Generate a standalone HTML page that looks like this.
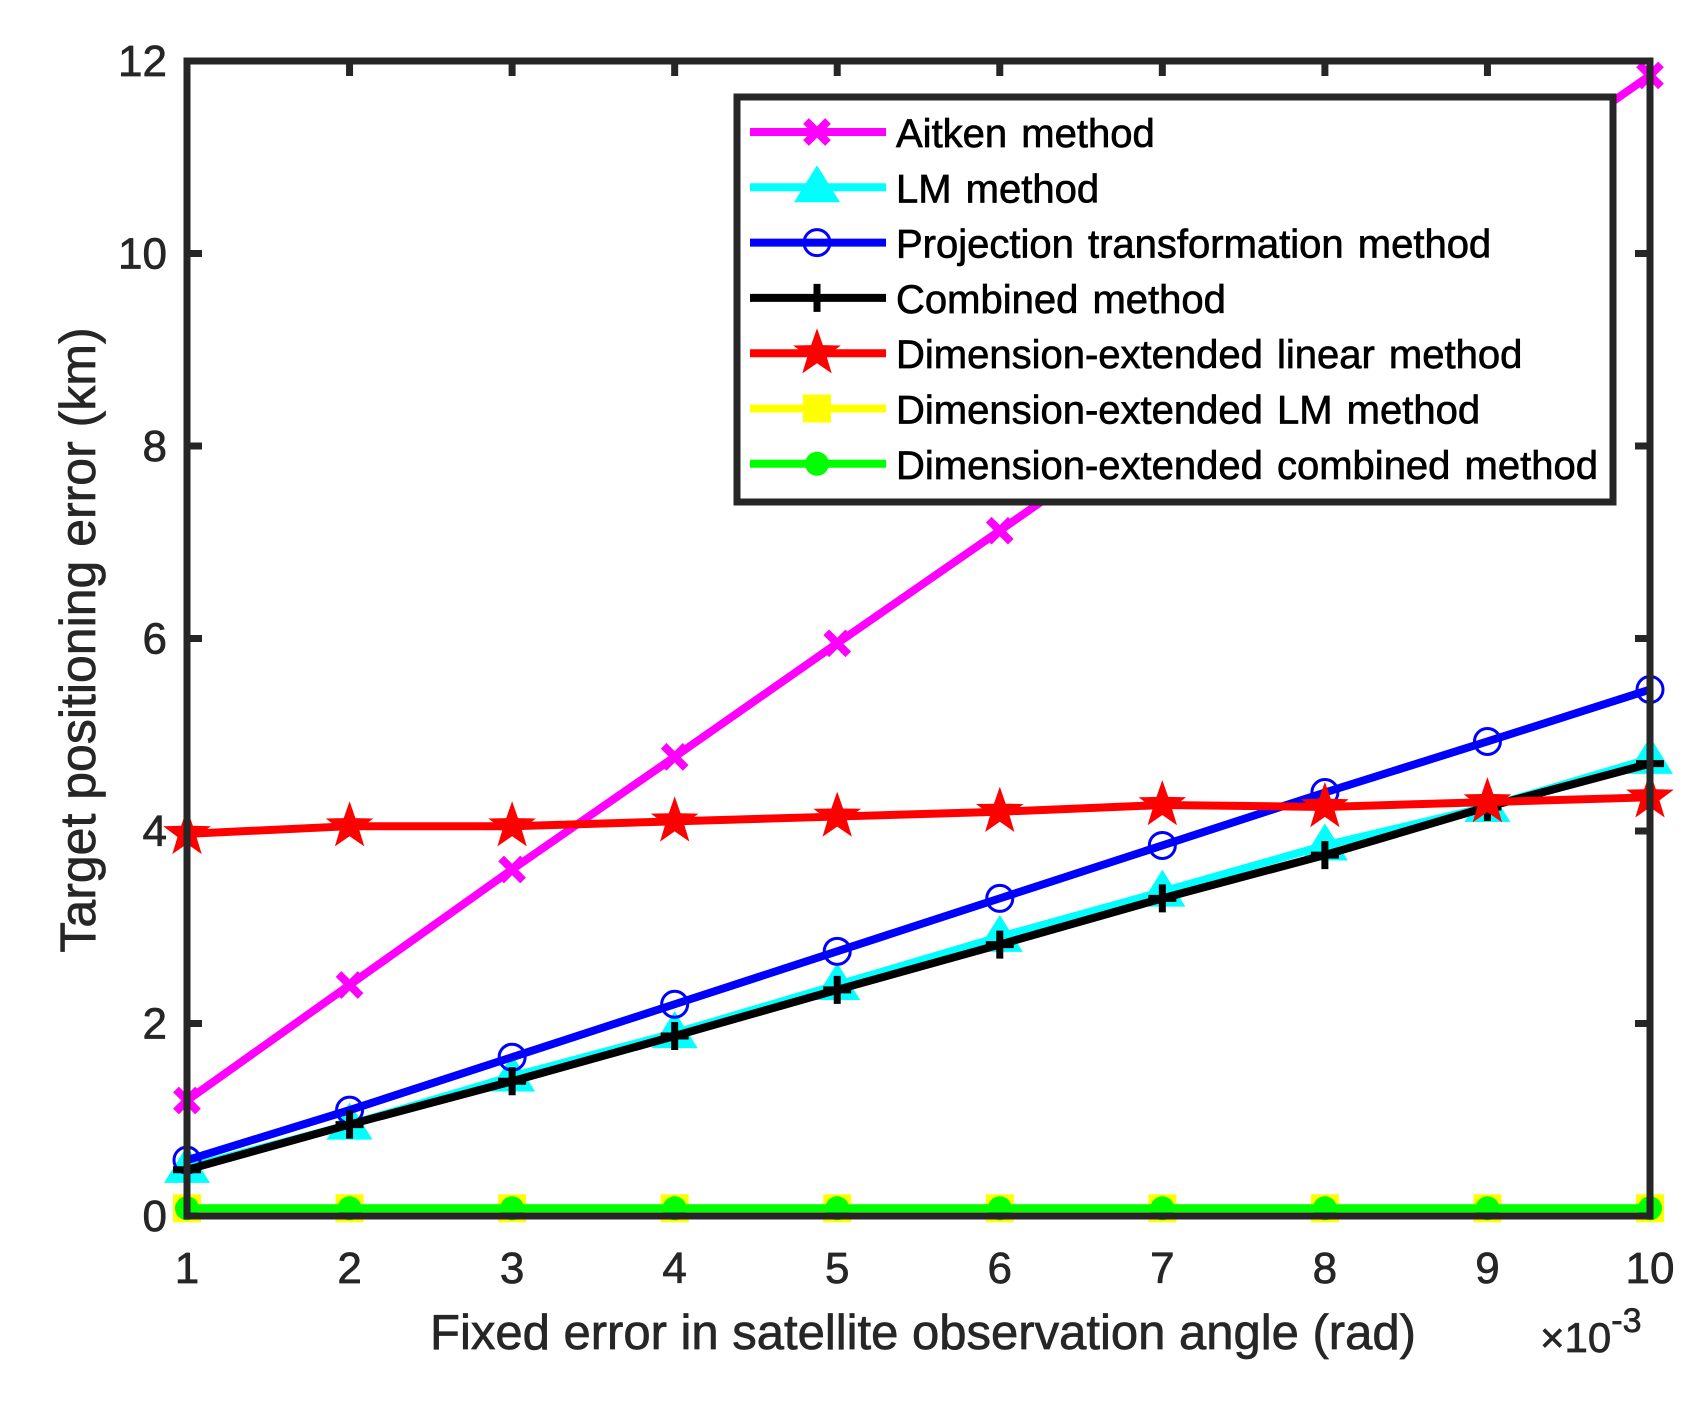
<!DOCTYPE html>
<html><head><meta charset="utf-8"><style>
html,body{margin:0;padding:0;background:#fff;}
svg{display:block;font-family:"Liberation Sans",Arial,sans-serif;}
text{stroke-width:0.7px;}
</style></head><body>
<svg id="chart" width="1699" height="1414" viewBox="0 0 1699 1414">
<rect width="1699" height="1414" fill="#fff"/>
<g id="plot"></g>
</svg>
<script>
const categories = [1,2,3,4,5,6,7,8,9,10];
const aitken = [1.2,2.4,3.6,4.77,5.95,7.12,8.3,9.5,10.67,11.85];
const lm = [0.5,0.95,1.45,1.9,2.4,2.9,3.37,3.85,4.25,4.75];
const projection = [0.58,1.1,1.65,2.2,2.75,3.3,3.85,4.4,4.93,5.47];
const combined = [0.48,0.95,1.4,1.87,2.35,2.82,3.3,3.75,4.25,4.7];
const deLinear = [3.97,4.05,4.05,4.1,4.15,4.2,4.27,4.25,4.3,4.35];
const deLM = [0.08,0.08,0.08,0.08,0.08,0.08,0.08,0.08,0.08,0.08];
const deCombined = [0.08,0.08,0.08,0.08,0.08,0.08,0.08,0.08,0.08,0.08];
const yTicks = [0,2,4,6,8,10,12];
const xTicks = [1,2,3,4,5,6,7,8,9,10];
const names = ["Aitken method","LM method","Projection transformation method","Combined method","Dimension-extended linear method","Dimension-extended LM method","Dimension-extended combined method"];

const L=187,R=1650,T=61,B=1216;
const xs=v=>L+(v-1)/9*(R-L);
const ys=v=>B-v/12*(B-T);
const NS="http://www.w3.org/2000/svg";
const plot=document.getElementById('plot');
function mk(tag,attrs,parent){const e=document.createElementNS(NS,tag);for(const k in attrs)e.setAttribute(k,attrs[k]);(parent||plot).appendChild(e);return e;}
const AX="#262626";

function marker(type,color,x,y,g){
  if(type==='x'){const s=11;mk('path',{d:`M${x-s},${y-s}L${x+s},${y+s}M${x-s},${y+s}L${x+s},${y-s}`,stroke:color,'stroke-width':8,fill:'none'},g);}
  else if(type==='tri'){mk('path',{d:`M${x},${y-22}L${x+23},${y+15}L${x-23},${y+15}Z`,fill:color},g);}
  else if(type==='o'){mk('circle',{cx:x,cy:y,r:13,fill:'none',stroke:color,'stroke-width':3},g);}
  else if(type==='+'){mk('path',{d:`M${x-14},${y}L${x+14},${y}M${x},${y-14}L${x},${y+14}`,stroke:color,'stroke-width':7},g);}
  else if(type==='star'){let d='';for(let i=0;i<10;i++){const r=i%2?10:25;const a=-Math.PI/2+i*Math.PI/5;d+=(i?'L':'M')+(x+r*Math.cos(a)).toFixed(1)+','+(y+r*Math.sin(a)).toFixed(1);}mk('path',{d:d+'Z',fill:color},g);}
  else if(type==='sq'){mk('rect',{x:x-14,y:y-14,width:28,height:28,fill:color},g);}
  else if(type==='dot'){mk('circle',{cx:x,cy:y,r:12,fill:color},g);}
}

yTicks.forEach(v=>{
  const t1=mk('path',{d:`M${L},${ys(v)}H${L+15}M${R},${ys(v)}H${R-15}`,stroke:AX,'stroke-width':7});
  
  
  const t=mk('text',{x:167,y:ys(v)+15,'text-anchor':'end','font-size':44,fill:AX,stroke:AX});t.textContent=v;
  
  
});
xTicks.forEach(v=>{
  const t1=mk('path',{d:`M${xs(v)},${B}V${B-15}M${xs(v)},${T}V${T+15}`,stroke:AX,'stroke-width':7});
  
  
  const t=mk('text',{x:xs(v),y:1283,'text-anchor':'middle','font-size':44,fill:AX,stroke:AX});t.textContent=v;
  
  
});

const series=[
 {d:aitken,c:'#ff00ff',m:'x',n:'series-aitken'},
 {d:lm,c:'#00ffff',m:'tri',n:'series-lm'},
 {d:projection,c:'#0000ff',m:'o',n:'series-projection'},
 {d:combined,c:'#000000',m:'+',n:'series-combined'},
 {d:deLinear,c:'#ff0000',m:'star',n:'series-de-linear'},
 {d:deLM,c:'#ffff00',m:'sq',n:'series-de-lm'},
 {d:deCombined,c:'#00ff00',m:'dot',n:'series-de-combined'}
];
series.forEach(s=>{
  const g=mk('g',{});
  
  
  const pts=s.d.map((v,i)=>xs(categories[i])+','+ys(v)).join(' ');
  mk('polyline',{points:pts,fill:'none',stroke:s.c,'stroke-width':8},g);
  s.d.forEach((v,i)=>marker(s.m,s.c,xs(categories[i]),ys(v),g));
});

const box=mk('rect',{x:L,y:T,width:R-L,height:B-T,fill:'none',stroke:AX,'stroke-width':7});



const lg=mk('g',{});


mk('rect',{x:737,y:97,width:876,height:405,fill:'#fff',stroke:AX,'stroke-width':7},lg);
names.forEach((nm,i)=>{
  const y=132+i*55.3;
  const e=mk('g',{},lg);
  
  
  mk('path',{d:`M750,${y}H886`,stroke:series[i].c,'stroke-width':8},e);
  marker(series[i].m,series[i].c,817,y,e);
  const t=mk('text',{x:896,y:y+15,'font-size':40,fill:'#000',stroke:'#000','word-spacing':3},e);t.textContent=nm;
});

const xl=mk('text',{x:923,y:1349,'text-anchor':'middle','font-size':49,fill:AX,stroke:AX});
xl.textContent='Fixed error in satellite observation angle (rad)';


const yl=mk('text',{x:0,y:0,'text-anchor':'middle','font-size':50,fill:AX,stroke:AX,transform:'translate(95,640) rotate(-90)'});
yl.textContent='Target positioning error (km)';


const ex=mk('text',{x:1540,y:1352,'font-size':42,fill:AX,stroke:AX});
ex.innerHTML='×10<tspan dy="-20" font-size="34">-3</tspan>';


</script>
</body></html>
